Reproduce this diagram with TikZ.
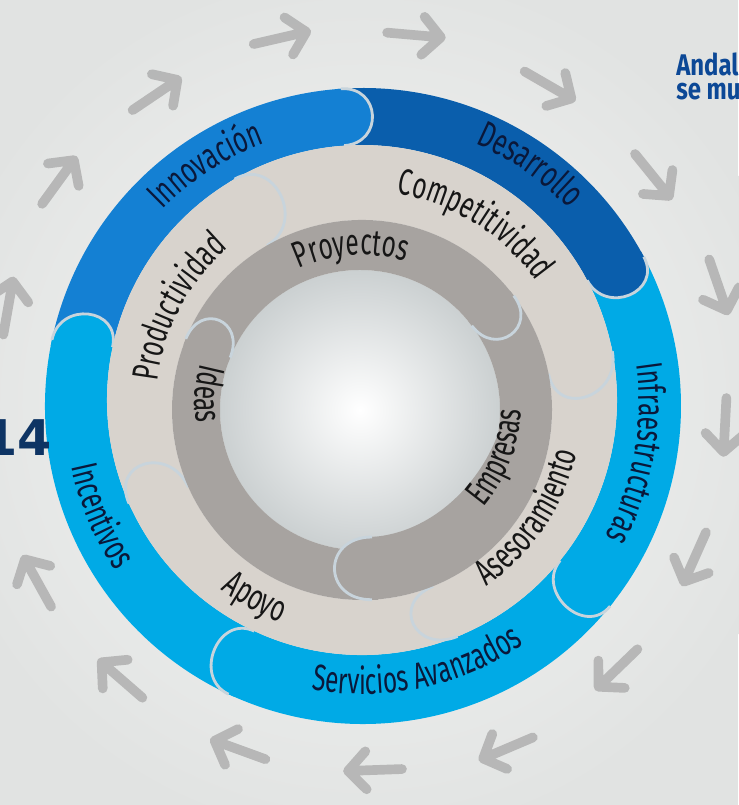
\documentclass[tikz,border=0pt]{standalone}
\usepackage{fontspec}
\usetikzlibrary{calc,decorations.text}

\newfontfamily\hand[FakeStretch=0.66]{Fira Sans}
\newfontfamily\headfont[FakeStretch=0.8]{Fira Sans}
\newfontfamily\numfont{DejaVu Sans}

\definecolor{bgGray}{RGB}{225,227,226}
\definecolor{glow}{RGB}{246,247,246}
\definecolor{innoBlue}{RGB}{20,128,211}
\definecolor{desaBlue}{RGB}{10,94,172}
\definecolor{lightBlue}{RGB}{0,170,230}
\definecolor{sand}{RGB}{216,211,205}
\definecolor{stone}{RGB}{167,163,160}
\definecolor{seamCol}{RGB}{200,212,220}
\definecolor{centreGray}{RGB}{203,208,209}
\definecolor{inkNavy}{RGB}{10,24,58}
\definecolor{inkBlack}{RGB}{22,22,22}
\definecolor{arrowGray}{RGB}{168,168,168}
\definecolor{titleBlue}{RGB}{12,72,150}
\definecolor{numBlue}{RGB}{14,52,100}

\tikzset{
  seam/.style={draw=seamCol, line width=1.6pt},
  arrowmark/.style={draw=arrowGray, line width=5.5pt, line cap=round, line join=round, opacity=0.75},
}

% band of a ring: colour, outer centre, R, inner centre, r, from, to
\newcommand\seg[7]{%
  \fill[#1] ($(#2)+(#6:#3)$) arc[start angle=#6, end angle=#7, radius=#3]
    -- ($(#4)+(#7:#5)$) arc[start angle=#7, end angle=#6, radius=#5] -- cycle;}

% rounded head of a band: colour, outer centre, R, inner centre, r, angle, pull
\newcommand\segcap[7]{%
  \coordinate (capO) at ($(#2)+(#6:#3)$);
  \coordinate (capI) at ($(#4)+(#6:#5)$);
  \coordinate (capP) at ($(capO)+(#6-90:#7)$);
  \coordinate (capQ) at ($(capI)+(#6-90:#7)$);
  \fill[#1] (capO) .. controls (capP) and (capQ) .. (capI)
    -- ($(capI)+(#6+90:6)$) -- ($(capO)+(#6+90:6)$) -- cycle;
  \draw[seam] (capO) .. controls (capP) and (capQ) .. (capI);}

% text on the rings: angle, radius, colour, text
\newcommand\cwlabel[4]{%
  \path[decorate, decoration={text along path, text align=center, text color=#3,
    text={|\hand\fontsize{21}{21}\selectfont|#4}}]
    ($(tc)+(#1+70:#2)$) arc[start angle=#1+70, end angle=#1-70, radius=#2];}
\newcommand\ccwlabel[4]{%
  \path[decorate, decoration={text along path, text align=center, text color=#3,
    text={|\hand\fontsize{21}{21}\selectfont|#4}}]
    ($(tc)+(#1-70:#2)$) arc[start angle=#1-70, end angle=#1+70, radius=#2];}

\begin{document}
\begin{tikzpicture}[x=0.02cm, y=0.02cm]

\useasboundingbox (0,0) rectangle (738,805);
\fill[bgGray] (0,0) rectangle (738,805);
\shade[inner color=glow, outer color=bgGray] (363,400) circle[radius=440];

\coordinate (Co) at (363,399);
\coordinate (Cb) at (362,405);
\coordinate (Cg) at (362,395);
\coordinate (Ci) at (360,395);
\coordinate (tc) at (362,400);

% arrows round the ring
\foreach \x/\y/\a in {280/767/13, 414/770/-5, 548/720/-30, 652/630/-51,
    718/520/-71, 725/380/-93, 695/248/-114, 618/137/-136, 508/57/-157,
    375/35/-178, 240/55/160, 122/125/139, 38/222/119, 8/497/80,
    58/623/54, 155/710/34}
  \draw[arrowmark, shift={(\x,\y)}, rotate=\a] (-27,0) -- (27,0) (9,19) -- (27,0) -- (9,-19);

% outer ring
\seg{innoBlue}{Co}{318}{Cb}{255}{168}{94}
\seg{desaBlue}{Co}{318}{Cb}{255}{94}{28}
\seg{lightBlue}{Co}{318}{Cb}{255}{28}{-39}
\seg{lightBlue}{Co}{318}{Cb}{255}{-39}{-115}
\seg{lightBlue}{Co}{318}{Cb}{255}{-115}{-192}
\segcap{innoBlue}{Co}{318}{Cb}{255}{94}{40}
\segcap{desaBlue}{Co}{318}{Cb}{255}{28}{40}
\segcap{lightBlue}{Co}{318}{Cb}{255}{-39}{40}
\segcap{lightBlue}{Co}{318}{Cb}{255}{-115}{40}
\segcap{lightBlue}{Co}{318}{Cb}{255}{168}{40}

% middle ring
\seg{sand}{Cb}{255}{Cg}{190}{204}{120}
\seg{sand}{Cb}{255}{Cg}{190}{120}{11}
\seg{sand}{Cb}{255}{Cg}{190}{11}{-68}
\seg{sand}{Cb}{255}{Cg}{190}{-68}{-156}
\segcap{sand}{Cb}{255}{Cg}{190}{120}{46}
\segcap{sand}{Cb}{255}{Cg}{190}{11}{46}
\segcap{sand}{Cb}{255}{Cg}{190}{-68}{46}
\segcap{sand}{Cb}{255}{Cg}{190}{-156}{46}

% centre
\shade[inner color=white, outer color=centreGray] (Ci) circle[radius=140];

% inner ring
\seg{stone}{Cg}{190}{Ci}{140}{-87}{-202}
\seg{stone}{Cg}{190}{Ci}{140}{158}{37}
\fill[stone] ($(Cg)+(37:190)$) arc[start angle=37, end angle=-87, radius=190]
  -- (372,268) .. controls (430,272) and (478,318) .. ($(Ci)+(-10:140)$)
  arc[start angle=-10, end angle=37, radius=140] -- cycle;
\fill[stone] ($(Cg)+(-87:190)$) .. controls (322,205) and (322,268) .. (372,268) -- (378,268) -- (378,205) -- cycle;
\draw[seam] ($(Cg)+(-87:190)$) .. controls (322,205) and (322,268) .. (372,268);
\segcap{stone}{Cg}{190}{Ci}{140}{158}{40}
\segcap{stone}{Cg}{190}{Ci}{140}{37}{40}

% labels
\cwlabel{123}{279}{inkNavy}{Innovación}
\cwlabel{55}{285}{inkNavy}{Desarrollo}
\cwlabel{-10}{277}{inkNavy}{Infraestructuras}
\ccwlabel{-78}{289}{inkNavy}{Servicios Avanzados}
\ccwlabel{203}{297}{inkNavy}{Incentivos}
\cwlabel{152}{206}{inkBlack}{Productividad}
\cwlabel{58}{214}{inkBlack}{Competitividad}
\ccwlabel{-34}{220}{inkBlack}{Asesoramiento}
\ccwlabel{241}{232}{inkBlack}{Apoyo}
\cwlabel{94}{150}{inkBlack}{Proyectos}
\ccwlabel{176}{167}{inkBlack}{Ideas}
\ccwlabel{-21}{159}{inkBlack}{Empresas}

% cut-off texts at the edges
\node[anchor=north west, inner sep=0, align=left, text=titleBlue,
  font=\headfont\bfseries\fontsize{17}{14}\selectfont] (title) at (676,753) {Andal\\se mu};
\node[anchor=east, inner sep=0, text=numBlue,
  font=\numfont\bfseries\fontsize{28}{28}\selectfont] (year) at (52,367) {14};

\end{tikzpicture}
\end{document}
